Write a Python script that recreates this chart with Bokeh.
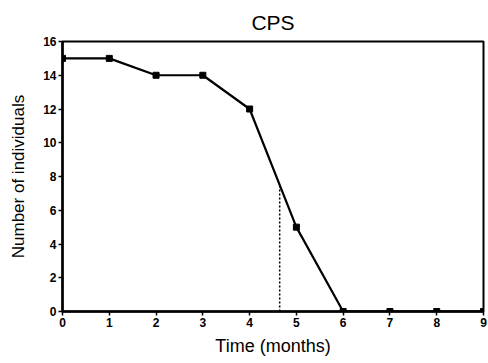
import numpy as np
from bokeh.plotting import figure
from bokeh.models import Range1d, FixedTicker
from bokeh.embed import file_html
from bokeh.resources import INLINE

# Survival counts over time
months = [0, 1, 2, 3, 4, 5, 6, 7, 8, 9]
individuals = [15, 15, 14, 14, 12, 5, 0, 0, 0, 0]
median_level = 7.5  # half of the starting population
x_ticks = [0, 1, 2, 3, 4, 5, 6, 7, 8, 9]
y_ticks = [0, 2, 4, 6, 8, 10, 12, 14, 16]

# time at which the curve crosses the median level (interpolated between 4 and 5)
median_time = float(np.interp(median_level, individuals[4:6][::-1], months[4:6][::-1]))

FONT = "Liberation Sans"

p = figure(frame_width=421, frame_height=270, output_backend="svg", toolbar_location=None,
           x_range=Range1d(0, 9), y_range=Range1d(0, 16),
           title="CPS", min_border_left=62, min_border_right=5,
           min_border_top=41, min_border_bottom=52)

p.title.align = "center"
p.title.text_font = FONT
p.title.text_font_size = "21px"
p.title.text_font_style = "normal"
p.title.text_color = "black"
p.title.offset = -9
p.title.standoff = 16

p.outline_line_color = "black"
p.outline_line_width = 2
p.outline_line_alpha = 1
p.xgrid.visible = False
p.ygrid.visible = False
p.background_fill_color = "white"
p.border_fill_color = "white"

for ax in (p.xaxis[0], p.yaxis[0]):
    ax.axis_line_width = 2.5
    ax.axis_line_color = "black"
    ax.major_tick_line_width = 1.5
    ax.major_tick_line_color = "black"
    ax.major_tick_in = 0
    ax.major_tick_out = 4
    ax.minor_tick_line_color = None
    ax.major_label_text_font = FONT
    ax.major_label_text_font_style = "bold"
    ax.major_label_text_font_size = "12px"
    ax.major_label_text_color = "black"
    ax.axis_label_text_font = FONT
    ax.axis_label_text_font_style = "normal"
    ax.axis_label_text_color = "black"

p.xaxis.axis_label_text_font_size = "18px"
p.yaxis.axis_label_text_font_size = "17px"
p.xaxis.ticker = FixedTicker(ticks=x_ticks)
p.yaxis.ticker = FixedTicker(ticks=y_ticks)
p.xaxis.axis_label = "Time (months)"
p.yaxis.axis_label = "Number of individuals"
p.xaxis.major_label_standoff = 2
p.yaxis.major_label_standoff = 2
p.xaxis.axis_label_standoff = 6
p.yaxis.axis_label_standoff = 12

# median marker
p.line([median_time, median_time], [0, median_level], line_color="black",
       line_width=1.5, line_dash="2 2")

# survival curve
p.line(months, individuals, line_color="black", line_width=2.2)
p.scatter(months, individuals, marker="square", size=6, fill_color="black",
          line_color="black")

open("out.html", "w").write(file_html(p, INLINE))
